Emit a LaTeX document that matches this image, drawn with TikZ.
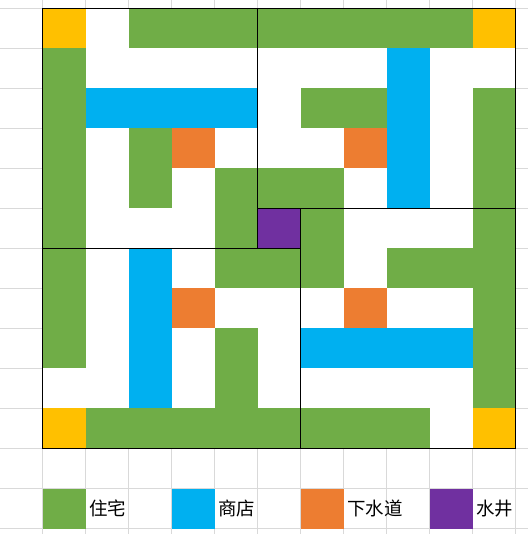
\documentclass[tikz,border=0pt]{standalone}
\usepackage{fontspec}
\newfontfamily\cjk{Noto Sans CJK SC}
\usetikzlibrary{positioning}

\definecolor{housegreen}{HTML}{70AD47}
\definecolor{shopblue}{HTML}{00B0F0}
\definecolor{draincolor}{HTML}{ED7D31}
\definecolor{wellcolor}{HTML}{7030A0}
\definecolor{cornercolor}{HTML}{FFC000}
\definecolor{sheetline}{HTML}{D9D9D9}

\begin{document}
\begin{tikzpicture}[x=0.86cm,y=-0.8cm,
  house/.style={fill=housegreen},
  shop/.style={fill=shopblue},
  drain/.style={fill=draincolor},
  well/.style={fill=wellcolor},
  corner/.style={fill=cornercolor},
  wall/.style={line width=0.8pt},
  key/.style={minimum width=0.86cm,minimum height=0.8cm,inner sep=0pt,anchor=north west},
  keytext/.style={font=\cjk\fontsize{10.5}{12}\selectfont,inner sep=1.5pt,anchor=west}]
  \useasboundingbox (-0.993,-0.2075) rectangle (11.286,13.1425);
  \fill[white] (-0.993,-0.2075) rectangle (11.286,13.1425);
  % sheet grid
  \foreach \c in {0,...,11}
    \draw[sheetline,line width=0.5pt] (\c,-0.2075) -- (\c,13.1425);
  \foreach \r in {0,...,13}
    \draw[sheetline,line width=0.5pt] (-0.993,\r) -- (11.286,\r);
  \fill[white] (0,0) rectangle (11,11);
  % houses
  \fill[house] (2,0) rectangle (10,1);
  \fill[house] (0,1) rectangle (1,9);
  \fill[house] (6,2) rectangle (8,3);
  \fill[house] (10,2) rectangle (11,10);
  \fill[house] (2,3) rectangle (3,5);
  \fill[house] (4,4) rectangle (5,7);
  \fill[house] (4,8) rectangle (5,10);
  \fill[house] (5,4) rectangle (7,5);
  \fill[house] (6,5) rectangle (7,7);
  \fill[house] (5,6) rectangle (6,7);
  \fill[house] (8,6) rectangle (10,7);
  \fill[house] (1,10) rectangle (9,11);
  % shops
  \fill[shop] (8,1) rectangle (9,5);
  \fill[shop] (1,2) rectangle (5,3);
  \fill[shop] (2,6) rectangle (3,10);
  \fill[shop] (6,8) rectangle (10,9);
  % drains
  \foreach \c/\r in {3/3,7/3,3/7,7/7}
    \fill[drain] (\c,\r) rectangle ++(1,1);
  % corners and well
  \foreach \c/\r in {0/0,10/0,0/10,10/10}
    \fill[corner] (\c,\r) rectangle ++(1,1);
  \fill[well] (5,5) rectangle (6,6);
  % walls
  \draw[wall] (0,0) rectangle (11,11);
  \draw[wall] (5,0) -- (5,6);
  \draw[wall] (0,6) -- (6,6);
  \draw[wall] (6,11) -- (6,5);
  \draw[wall] (11,5) -- (5,5);
  % legend
  \node[key,house] (khouse) at (0,12) {};
  \node[keytext,right=0pt of khouse] (thouse) {住宅};
  \node[key,shop] (kshop) at (3,12) {};
  \node[keytext,right=0pt of kshop] (tshop) {商店};
  \node[key,drain] (kdrain) at (6,12) {};
  \node[keytext,right=0pt of kdrain] (tdrain) {下水道};
  \node[key,well] (kwell) at (9,12) {};
  \node[keytext,right=0pt of kwell] (twell) {水井};
\end{tikzpicture}
\end{document}
